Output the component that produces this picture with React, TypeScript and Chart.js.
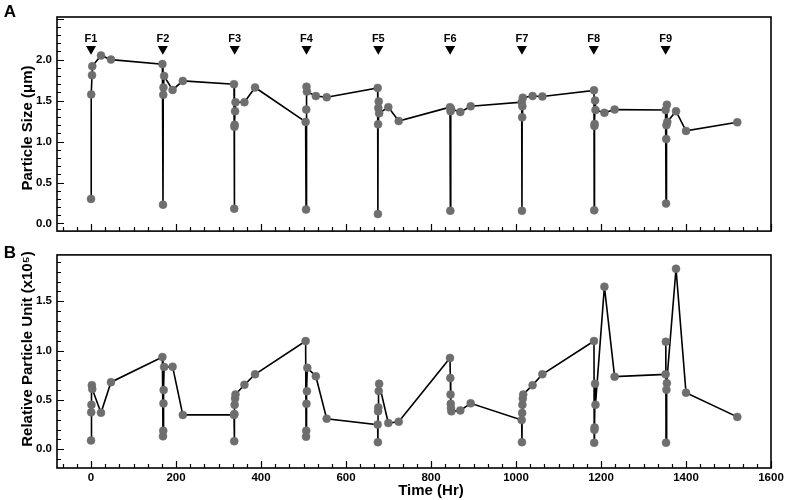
import React, { useEffect, useRef } from 'react';
import { Chart, registerables } from 'chart.js';

Chart.register(...registerables);

// ---------- data ----------
const feedHours = [0, 169, 338, 507, 676, 845, 1014, 1183, 1352];
const feedLabels = ['F1', 'F2', 'F3', 'F4', 'F5', 'F6', 'F7', 'F8', 'F9'];
const feedMarkerLevel = 2.13;

const hoursA = [
  0, 0.5, 2.4, 3, 23.5, 47, 168,
  169.4, 170, 170.5, 172, 192, 216,
  336.5, 337, 337.5, 338, 339, 340, 361, 386,
  505, 506, 506.5, 507, 508, 529, 554.5,
  674.5, 675, 675.5, 676, 677, 678, 699.5, 724,
  844.7, 845.5, 846, 847, 869, 893.4,
  1013.4, 1014, 1014.5, 1015, 1016, 1039, 1062,
  1183.5, 1184, 1184.5, 1185, 1186, 1187, 1208, 1232,
  1352, 1353, 1353.5, 1354, 1355, 1356, 1376.5, 1400, 1520.7,
];
const particleSize = [
  0.30, 1.575, 1.81, 1.92, 2.05, 2.00, 1.945,
  0.23, 1.57, 1.66, 1.80, 1.63, 1.74,
  1.70, 0.18, 1.18, 1.205, 1.37, 1.48, 1.48, 1.66,
  1.24, 0.17, 1.39, 1.67, 1.61, 1.555, 1.54,
  1.655, 0.115, 1.21, 1.41, 1.49, 1.345, 1.42, 1.25,
  1.42, 0.155, 1.37, 1.40, 1.36, 1.43,
  1.48, 0.155, 1.295, 1.43, 1.535, 1.555, 1.55,
  1.625, 0.16, 1.19, 1.215, 1.50, 1.385, 1.35, 1.39,
  1.385, 0.243, 1.03, 1.20, 1.45, 1.24, 1.37, 1.13, 1.235,
];

const hoursB = [
  0, 0.5, 1, 2, 3, 23.5, 47, 168,
  169.4, 170, 170.5, 171, 172, 192, 216,
  336.5, 337, 337.5, 338, 339, 340, 361, 386,
  505, 506, 506.5, 507, 508, 509, 529, 554.5,
  674.5, 675, 675.5, 676, 677, 678, 699.5, 724,
  844.7, 845.5, 846, 846.5, 847, 848, 869, 893.4,
  1013.4, 1014, 1014.5, 1015, 1016, 1017, 1039, 1062,
  1183.5, 1184, 1184.5, 1185, 1186, 1187, 1208, 1232,
  1352, 1352.5, 1353, 1354, 1355, 1376.5, 1400, 1520.7,
];
const relativeUnits = [
  0.089, 0.374, 0.45, 0.65, 0.61, 0.37, 0.68, 0.935,
  0.131, 0.187, 0.465, 0.60, 0.835, 0.837, 0.348,
  0.348, 0.082, 0.357, 0.45, 0.515, 0.555, 0.653, 0.76,
  1.097, 0.128, 0.187, 0.46, 0.588, 0.825, 0.74, 0.31,
  0.25, 0.072, 0.385, 0.424, 0.59, 0.663, 0.266, 0.279,
  0.926, 0.722, 0.555, 0.46, 0.417, 0.384, 0.394, 0.466,
  0.296, 0.072, 0.368, 0.45, 0.515, 0.555, 0.65, 0.76,
  1.097, 0.066, 0.197, 0.22, 0.663, 0.45, 1.648, 0.736,
  0.759, 1.09, 0.066, 0.604, 0.67, 1.83, 0.574, 0.328,
];

const xTicks = [0, 200, 400, 600, 800, 1000, 1200, 1400, 1600];
const yTicksA = [0, 0.5, 1.0, 1.5, 2.0];
const yTicksB = [0, 0.5, 1.0, 1.5];

const FONT = "'Liberation Sans', Arial, Helvetica, sans-serif";
const POINT_GRAY = '#6e6e6e';

// ---------- decoration plugin (frame, inward ticks, titles) ----------
const decorPlugin = {
  id: 'decor',
  afterDraw(chart: any, _args: any, o: any) {
    const { ctx, chartArea: a, scales } = chart;
    const xs = scales.x;
    const ys = scales.y;
    ctx.save();
    ctx.strokeStyle = '#000';
    ctx.lineWidth = 1.2;
    ctx.beginPath();
    // y ticks (inward)
    const ys0 = Math.ceil(ys.min / o.yMinor - 1e-6);
    for (let k = ys0; k * o.yMinor <= ys.max + 1e-9; k++) {
      const v = k * o.yMinor;
      const r = v / o.yMajor;
      const major = Math.abs(r - Math.round(r)) < 1e-6;
      const py = Math.round(ys.getPixelForValue(v)) + 0.5;
      ctx.moveTo(a.left, py);
      ctx.lineTo(a.left + (major ? 7 : 4), py);
    }
    // x ticks (inward)
    const xs0 = Math.ceil(xs.min / o.xMinor - 1e-6);
    for (let k = xs0; k * o.xMinor <= xs.max + 1e-6; k++) {
      const v = k * o.xMinor;
      const r = v / o.xMajor;
      const major = Math.abs(r - Math.round(r)) < 1e-6;
      const px = Math.round(xs.getPixelForValue(v)) + 0.5;
      ctx.moveTo(px, a.bottom);
      ctx.lineTo(px, a.bottom - (major ? 7 : 4));
    }
    ctx.stroke();
    // frame
    ctx.lineWidth = 1.6;
    ctx.strokeRect(a.left, a.top, a.right - a.left, a.bottom - a.top);

    ctx.fillStyle = '#000';
    // feed labels
    if (o.feeds) {
      ctx.font = `bold 11px ${FONT}`;
      ctx.textAlign = 'center';
      ctx.textBaseline = 'middle';
      o.feeds.hours.forEach((h: number, i: number) => {
        const px = xs.getPixelForValue(h);
        const py = ys.getPixelForValue(o.feeds.level) - 10;
        ctx.fillText(o.feeds.labels[i], px, py);
      });
    }
    // free texts
    (o.texts || []).forEach((t: any) => {
      ctx.save();
      ctx.font = `bold ${t.size}px ${FONT}`;
      ctx.textAlign = 'center';
      ctx.textBaseline = 'middle';
      ctx.translate(t.x, t.y);
      if (t.rot) ctx.rotate(t.rot);
      ctx.fillText(t.text, 0, 0);
      ctx.restore();
    });
    ctx.restore();
  },
};

function makeConfig(panel: 'A' | 'B'): any {
  const isA = panel === 'A';
  const xsArr = isA ? hoursA : hoursB;
  const ysArr = isA ? particleSize : relativeUnits;
  const datasets: any[] = [
    {
      data: xsArr.map((x, i) => ({ x, y: ysArr[i] })),
      showLine: true,
      borderColor: '#000',
      borderWidth: 1.6,
      pointRadius: 4,
      pointHoverRadius: 4,
      pointBackgroundColor: POINT_GRAY,
      pointBorderColor: POINT_GRAY,
      pointBorderWidth: 0.5,
      tension: 0,
    },
  ];
  if (isA) {
    datasets.push({
      data: feedHours.map((h) => ({ x: h, y: feedMarkerLevel })),
      showLine: false,
      pointStyle: 'triangle',
      rotation: 180,
      pointRadius: 5.8,
      pointHoverRadius: 5.8,
      pointBackgroundColor: '#000',
      pointBorderColor: '#000',
      pointBorderWidth: 0,
    });
  }
  const canvasH = isA ? 243 : 257;
  const areaTop = isA ? 17 : 6;
  const areaBottom = isA ? 240.5 : 225;
  const yTicks = isA ? yTicksA : yTicksB;
  const texts = isA
    ? [
        { text: 'A', x: 10, y: 12, size: 17 },
        { text: 'Particle Size (\u03bcm)', x: 28, y: 128, size: 15, rot: -Math.PI / 2 },
      ]
    : [
        { text: 'B', x: 10, y: 10, size: 17 },
        { text: 'Relative Particle Unit (x10\u2075)', x: 28, y: 106, size: 15, rot: -Math.PI / 2 },
        { text: 'Time (Hr)', x: 431, y: 248, size: 15 },
      ];
  return {
    type: 'scatter',
    data: { datasets },
    plugins: [decorPlugin],
    options: {
      animation: false,
      responsive: false,
      devicePixelRatio: 1,
      layout: { padding: { left: 0, right: 16, top: areaTop, bottom: 0 } },
      plugins: {
        legend: { display: false },
        tooltip: { enabled: false },
        decor: {
          xMinor: 200 / 6,
          xMajor: 200,
          yMinor: 0.1,
          yMajor: 0.5,
          feeds: isA ? { hours: feedHours, labels: feedLabels, level: feedMarkerLevel } : null,
          texts,
        },
      },
      scales: {
        x: {
          type: 'linear',
          min: -80,
          max: 1600,
          grid: { display: false, drawTicks: false },
          border: { display: false },
          afterBuildTicks: (s: any) => {
            s.ticks = xTicks.map((v) => ({ value: v }));
          },
          afterFit: (s: any) => {
            s.height = canvasH - areaBottom;
          },
          ticks: {
            display: !isA,
            padding: 3,
            maxRotation: 0,
            autoSkip: false,
            color: '#000',
            font: { family: FONT, size: 11.5, weight: 'bold' },
            callback: (v: any) => String(v),
          },
        },
        y: {
          type: 'linear',
          min: isA ? -0.093 : -0.19,
          max: isA ? 2.52 : 1.97,
          grid: { display: false, drawTicks: false },
          border: { display: false },
          afterBuildTicks: (s: any) => {
            s.ticks = yTicks.map((v) => ({ value: v }));
          },
          afterFit: (s: any) => {
            s.width = 57;
          },
          ticks: {
            padding: 5,
            autoSkip: false,
            color: '#000',
            font: { family: FONT, size: 11.5, weight: 'bold' },
            callback: (v: any) => Number(v).toFixed(1),
          },
        },
      },
    },
  };
}

function Panel({ panel, top, height }: { panel: 'A' | 'B'; top: number; height: number }) {
  const ref = useRef<HTMLCanvasElement | null>(null);
  useEffect(() => {
    if (!ref.current) return;
    const chart = new Chart(ref.current, makeConfig(panel));
    return () => chart.destroy();
  }, [panel]);
  return (
    <canvas
      ref={ref}
      width={787}
      height={height}
      style={{ position: 'absolute', left: 0, top, width: 787, height, display: 'block' }}
    />
  );
}

export default function App() {
  return (
    <div
      style={{
        position: 'absolute',
        left: 0,
        top: 0,
        width: 787,
        height: 500,
        background: '#fff',
        overflow: 'hidden',
      }}
    >
      <Panel panel="A" top={0} height={243} />
      <Panel panel="B" top={243} height={257} />
    </div>
  );
}
